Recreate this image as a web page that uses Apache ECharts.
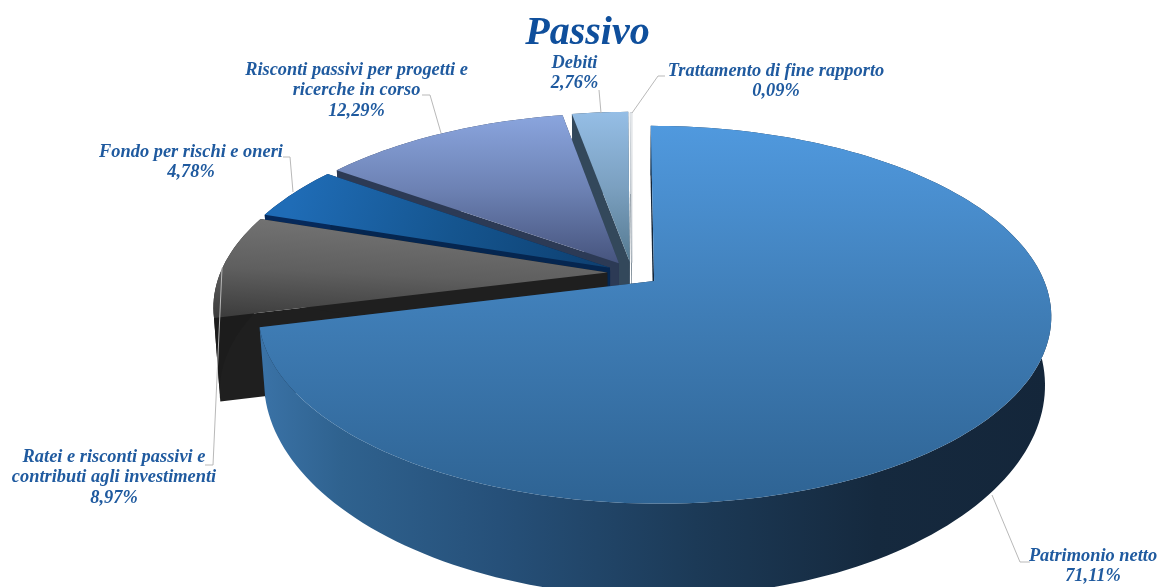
<!DOCTYPE html>
<html><head><meta charset="utf-8">
<style>html,body{margin:0;padding:0;background:#fff;overflow:hidden}#c{width:1160px;height:587px;filter:blur(0.35px)}</style>
<script src="https://cdn.jsdelivr.net/npm/echarts@6/dist/echarts.min.js"></script>
</head><body><div id="c"></div>
<script>
// ---- data ----
const categories = ['Patrimonio netto','Ratei e risconti passivi e\ncontributi agli investimenti','Fondo per rischi e oneri','Risconti passivi per progetti e\nricerche in corso','Debiti','Trattamento di fine rapporto'];
const shares = [71.11, 8.97, 4.78, 12.29, 2.76, 0.09];
const titleText = 'Passivo';

// ---- projection of the tilted disc ----
const CX=632, CY=273, AX=387, AY=180, PERSP=0.177, BOTTOM_SCALE=0.985;
const EXPLODE=[0.072,0.064,0.064,0.064,0.064,0.058];
const DEPTH=[64,83,83,83,83,83], DEPTH_PERSP=[0.30,0.02,0.02,0.02,0.02,0.02];
const total=shares.reduce((a,b)=>a+b,0);
function project(u,v,bottom,idx){
  const d=1-PERSP*v, k=bottom?BOTTOM_SCALE:1;
  const drop=bottom?DEPTH[idx]/(1-DEPTH_PERSP[idx]*v):0;
  return [CX+k*AX*u/d, CY+AY*v/d+drop];
}
// ---- styles ----
const G=(x,y,x2,y2,st)=>new echarts.graphic.LinearGradient(x,y,x2,y2,st.map((c,i)=>({offset:c[0],color:c[1]})),true);
const styles=[
 {top:G(0,126,0,505,[[0,'#5099de'],[0.5,'#3f7db6'],[1,'#2e6393']]),
  rim:G(262,0,1050,0,[[0,'#3a72a6'],[0.1,'#2f628f'],[0.3,'#265079'],[0.55,'#1c3a57'],[0.78,'#15293e'],[1,'#14263a']]),cut:'#14263a'},
 {top:G(405,215,400,325,[[0,'#767676'],[0.55,'#5f5f5f'],[1,'#3c3c3c']]),rim:'#1c1c1c',cut:'#1f1f1f'},
 {top:G(300,175,610,270,[[0,'#1f6cb6'],[0.5,'#15558f'],[1,'#0d3f70']]),rim:'#06295a',cut:'#052650'},
 {top:G(0,115,0,262,[[0,'#8aa5de'],[0.5,'#6d82b4'],[1,'#47557f']]),rim:'#2c3a55',cut:'#2c3a55'},
 {top:G(0,112,0,262,[[0,'#95bee6'],[0.5,'#7ba0c0'],[1,'#557a91']]),rim:'#33485b',cut:'#33485b'},
 {top:'#ffffff',rim:'#cfd6dc',cut:'#7d8b96',stroke:'#b4bcc4'}
];
// ---- leader lines and label anchors (annotation layout) ----
const labelLayout=[
 {cx:1093,y:556,line:[[992,495],[1020,562],[1030,562]]},
 {cx:114,y:457,line:[[222,268],[213,465],[205,465]]},
 {cx:191,y:152,line:[[283,157],[290,157],[293,192]]},
 {cx:356.5,y:70,line:[[422,95],[430,95],[441,133]]},
 {cx:574.5,y:63,line:[[599,90],[601,113]]},
 {cx:776,y:71,line:[[665,76],[658,76],[632,113]]}
];
const LINE_H=20.7;
// accumulate slice angles from values
let acc=0;
const sliceData=shares.map((s,i)=>{const a0=acc/total*360;acc+=s;const a1=acc/total*360;return [a0,a1,i];});
const paintOrder=sliceData.slice().reverse();

function renderSlice(params,api){
  const a0=api.value(0), a1=api.value(1), idx=api.value(2);
  const mid=(a0+a1)/2*Math.PI/180, e=EXPLODE[idx];
  const ox=e*Math.sin(mid), oy=-e*Math.cos(mid);
  const st=styles[idx];
  const pt=(deg,r,b)=>{const t=deg*Math.PI/180;return project(ox+r*Math.sin(t),oy-r*Math.cos(t),b,idx);};
  const n=Math.max(4,Math.ceil((a1-a0)/1.5));
  const topRim=[],botRim=[];
  for(let i=0;i<=n;i++){const d=a0+(a1-a0)*i/n;topRim.push(pt(d,1,false));botRim.push(pt(d,1,true));}
  const apexT=pt(a0,0,false), apexB=pt(a0,0,true);
  const cut=(d)=>({type:'polygon',shape:{points:[apexT,pt(d,1,false),pt(d,1,true),apexB]},style:{fill:st.cut}});
  const stroke=st.stroke?{stroke:st.stroke,lineWidth:0.6}:{};
  return {type:'group',silent:true,children:[
    cut(a0),cut(a1),
    {type:'polygon',shape:{points:topRim.concat(botRim.slice().reverse())},style:{fill:st.rim}},
    {type:'polygon',shape:{points:[apexT].concat(topRim)},style:Object.assign({fill:st.top},stroke)}
  ]};
}
function pct(v){return v.toFixed(2).replace('.',',')+'%';}
function renderLabel(params,api){
  const i=api.value(0), L=labelLayout[i];
  const lines=categories[i].split('\n').concat([pct(shares[i])]);
  const kids=[{type:'polyline',shape:{points:L.line},style:{stroke:'#b9b9b9',lineWidth:1,fill:null}}];
  lines.forEach((t,k)=>kids.push({type:'text',style:{text:t,x:L.cx,y:L.y+k*LINE_H,align:'center',verticalAlign:'middle',
    font:'italic bold 18.4px "Liberation Serif"',fill:'#1f5a9f'}}));
  return {type:'group',silent:true,children:kids};
}
const chart=echarts.init(document.getElementById('c'));
chart.setOption({
  animation:false,backgroundColor:'#ffffff',
  title:{text:titleText,left:582.5,top:29,textAlign:'center',textVerticalAlign:'middle',
    textStyle:{fontFamily:'Liberation Serif',fontStyle:'italic',fontWeight:'bold',fontSize:40,color:'#0f4f9c'}},
  tooltip:{show:false},
  series:[
   {type:'custom',coordinateSystem:'none',renderItem:renderSlice,data:paintOrder,z:2},
   {type:'custom',coordinateSystem:'none',renderItem:renderLabel,data:categories.map((c,i)=>[i]),z:3}
  ]
});
</script></body></html>
